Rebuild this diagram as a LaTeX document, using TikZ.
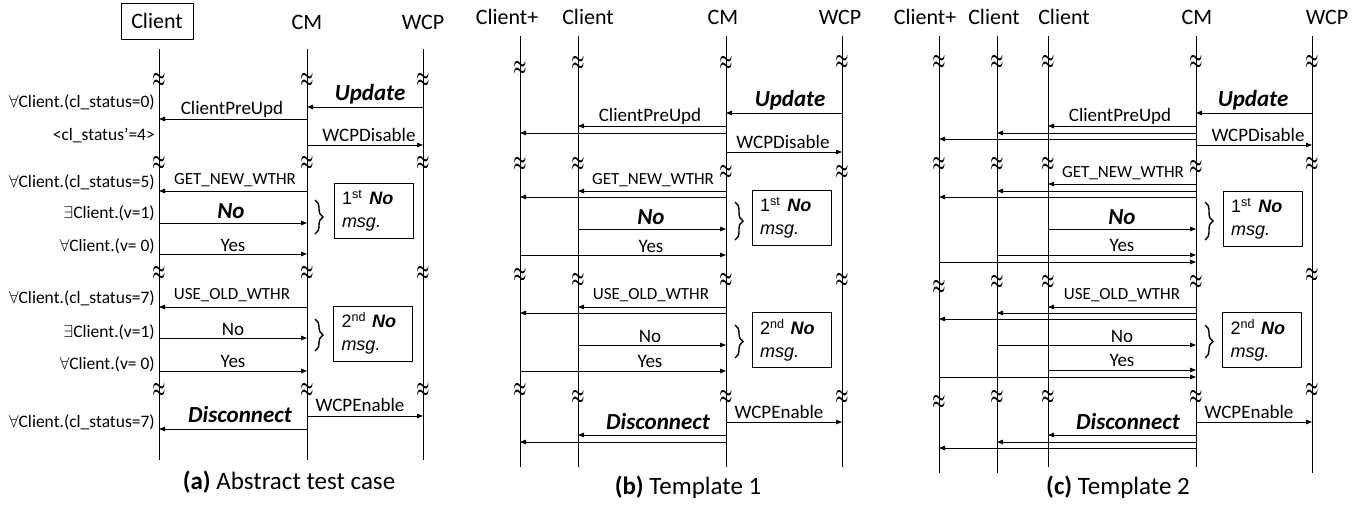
\documentclass[tikz,border=0pt]{standalone}
\usepackage{fontspec}
\setmainfont{Carlito}
\newfontfamily\arialfont{Liberation Sans}
\usetikzlibrary{arrows.meta,decorations.pathreplacing}
\newcommand\mymsg[3]{\draw[msg] (#1 |- 0,#3) -- (#2 |- 0,#3);}
\newcommand\brkmark{\scalebox{0.85}[1.45]{$\boldsymbol{\approx}$}}
\usepackage{amsmath,bm}
\begin{document}
\begin{tikzpicture}[x=1pt,y=-1pt,
  life/.style={line width=1pt},
  msg/.style={line width=0.8pt,-{Triangle[length=6pt,width=4.5pt]}},
  lbl/.style={font=\fontsize{19}{21}\selectfont,inner sep=0pt},
  small/.style={font=\fontsize{17}{19}\selectfont,inner sep=0pt},
  big/.style={font=\fontsize{23}{26}\selectfont\bfseries\itshape,inner sep=0pt},
  hdr/.style={font=\fontsize{22}{25}\selectfont,inner sep=0pt},
  cond/.style={font=\fontsize{17.5}{20}\selectfont,anchor=east,inner sep=0pt},
  brk/.style={font=\fontsize{17}{17}\selectfont,inner sep=0pt},
  capt/.style={font=\fontsize{25}{28}\selectfont,inner sep=0pt},
  notebox/.style={draw,line width=0.8pt,font=\arialfont\fontsize{18}{23}\selectfont,
    text width=63pt,align=left,inner xsep=8pt,inner ysep=3pt,minimum height=55pt},
  brace/.style={decorate,decoration={brace,amplitude=8pt},line width=1.4pt}]
\useasboundingbox (0,0) rectangle (1354,504);

% ================= panel (a) =================
\coordinate (aCl) at (159,49);  \coordinate (aClb) at (159,460);
\coordinate (aCM) at (307,49);  \coordinate (aCMb) at (307,460);
\coordinate (aWC) at (423,49);  \coordinate (aWCb) at (423,460);
\draw[life] (aCl) -- (aClb);
\draw[life] (aCM) -- (aCMb);
\draw[life] (aWC) -- (aWCb);
\node[hdr,draw,line width=0.8pt,minimum width=72pt,minimum height=36pt] (aClH) at (157,21) {Client};
\node[hdr] (aCMH) at (307,22) {CM};
\node[hdr] (aWCH) at (423,22) {WCP};
\foreach \n/\x in {Cl/159,CM/307,WC/423}{
  \foreach \k/\y in {1/80,2/163,3/273,4/390}{
    \node[brk] (aB\n\k) at (\x,\y) {\brkmark};
  }
}
\mymsg{aWC}{aCM}{107}
\node[big] (aL1) at (370,94) {Update};
\mymsg{aCM}{aCl}{119}
\node[lbl] (aL2) at (232,109) {ClientPreUpd};
\mymsg{aCM}{aWC}{145}
\node[lbl] (aL3) at (369,135) {WCPDisable};
\mymsg{aCM}{aCl}{191}
\node[small] (aL4) at (235,180) {GET\_NEW\_WTHR};
\mymsg{aCl}{aCM}{223}
\node[big] (aL5) at (231,211) {No};
\mymsg{aCl}{aCM}{254}
\node[lbl] (aL6) at (233,245) {Yes};
\draw[brace] (315,200) -- (315,234);
\node[notebox] (aN1) at (373.5,210.5) {1\textsuperscript{st}\hspace{7pt}\textbf{\itshape No}\\\itshape msg.};
\mymsg{aCM}{aCl}{307}
\node[small] (aL7) at (232,295) {USE\_OLD\_WTHR};
\mymsg{aCl}{aCM}{338}
\node[lbl] (aL8) at (233,329) {No};
\mymsg{aCl}{aCM}{371}
\node[lbl] (aL9) at (233,361) {Yes};
\draw[brace] (315,319) -- (315,351);
\node[notebox] (aN2) at (373,333.5) {2\textsuperscript{nd} \textbf{\itshape No}\\\itshape msg.};
\mymsg{aCM}{aWC}{416}
\node[lbl] (aL10) at (360,405) {WCPEnable};
\mymsg{aCM}{aCl}{429}
\node[big] (aL11) at (240,415) {Disconnect};
\node[cond] (aC1) at (155,102) {$\forall$Client.(cl\_status=0)};
\node[cond] (aC2) at (155,136) {<cl\_status’=4>};
\node[cond] (aC3) at (155,182) {$\forall$Client.(cl\_status=5)};
\node[cond] (aC4) at (155,213) {$\exists$Client.(v=1)};
\node[cond] (aC5) at (155,246) {$\forall$Client.(v= 0)};
\node[cond] (aC6) at (155,298) {$\forall$Client.(cl\_status=7)};
\node[cond] (aC7) at (155,332) {$\exists$Client.(v=1)};
\node[cond] (aC8) at (155,364) {$\forall$Client.(v= 0)};
\node[cond] (aC9) at (155,422) {$\forall$Client.(cl\_status=7)};
\node[capt] (aCap) at (289,482) {\textbf{(a)} Abstract test case};

% ================= panel (b) =================
\coordinate (bCp) at (520,36); \coordinate (bCpb) at (520,467);
\coordinate (bCl) at (578,36); \coordinate (bClb) at (578,467);
\coordinate (bCM) at (726,36); \coordinate (bCMb) at (726,467);
\coordinate (bWC) at (842,36); \coordinate (bWCb) at (842,467);
\draw[life] (bCp) -- (bCpb);
\draw[life] (bCl) -- (bClb);
\draw[life] (bCM) -- (bCMb);
\draw[life] (bWC) -- (bWCb);
\node[hdr] (bCpH) at (507,17) {Client+};
\node[hdr] (bClH) at (588,17) {Client};
\node[hdr] (bCMH) at (723,17) {CM};
\node[hdr] (bWCH) at (840,17) {WCP};
\foreach \n/\x/\ya/\yb/\yc/\yd in {Cp/520/68/164/275/390,Cl/578/63/164/280/397,CM/726/63/172/280/397,WC/842/62/172/280/397}{
  \node[brk] (bB\n1) at (\x,\ya) {\brkmark};
  \node[brk] (bB\n2) at (\x,\yb) {\brkmark};
  \node[brk] (bB\n3) at (\x,\yc) {\brkmark};
  \node[brk] (bB\n4) at (\x,\yd) {\brkmark};
}
\mymsg{bWC}{bCM}{113}
\node[big] (bL1) at (790,100) {Update};
\mymsg{bCM}{bCl}{126}
\mymsg{bCM}{bCp}{133}
\node[lbl] (bL2) at (650,116) {ClientPreUpd};
\mymsg{bCM}{bWC}{152}
\node[lbl] (bL3) at (783,142) {WCPDisable};
\mymsg{bCM}{bCl}{191}
\mymsg{bCM}{bCp}{197}
\node[small] (bL4) at (653,180) {GET\_NEW\_WTHR};
\mymsg{bCl}{bCM}{229}
\node[big] (bL5) at (651,217) {No};
\mymsg{bCp}{bCM}{255}
\node[lbl] (bL6) at (651,246) {Yes};
\draw[brace] (735,202) -- (735,240);
\node[notebox] (bN1) at (791.5,218) {1\textsuperscript{st}\hspace{7pt}\textbf{\itshape No}\\\itshape msg.};
\mymsg{bCM}{bCl}{307}
\mymsg{bCM}{bCp}{313}
\node[small] (bL7) at (651,295) {USE\_OLD\_WTHR};
\mymsg{bCl}{bCM}{345}
\node[lbl] (bL8) at (650,336) {No};
\mymsg{bCp}{bCM}{371}
\node[lbl] (bL9) at (650,361) {Yes};
\draw[brace] (735,325) -- (735,358);
\node[notebox] (bN2) at (791.5,340) {2\textsuperscript{nd} \textbf{\itshape No}\\\itshape msg.};
\mymsg{bCM}{bWC}{422}
\node[lbl] (bL10) at (779,412) {WCPEnable};
\mymsg{bCM}{bCl}{435}
\mymsg{bCM}{bCp}{442}
\node[big] (bL11) at (658,422) {Disconnect};
\node[capt] (bCap) at (688,487) {\textbf{(b)} Template 1};

% ================= panel (c) =================
\coordinate (cCp) at (939,36);  \coordinate (cCpb) at (939,473);
\coordinate (cC1) at (997,36);  \coordinate (cC1b) at (997,473);
\coordinate (cC2) at (1048,36); \coordinate (cC2b) at (1048,467);
\coordinate (cCM) at (1196,36); \coordinate (cCMb) at (1196,467);
\coordinate (cWC) at (1312,36); \coordinate (cWCb) at (1312,473);
\draw[life] (cCp) -- (cCpb);
\draw[life] (cC1) -- (cC1b);
\draw[life] (cC2) -- (cC2b);
\draw[life] (cCM) -- (cCMb);
\draw[life] (cWC) -- (cWCb);
\node[hdr] (cCpH) at (925,17) {Client+};
\node[hdr] (cC1H) at (994,17) {Client};
\node[hdr] (cC2H) at (1064,17) {Client};
\node[hdr] (cCMH) at (1197,17) {CM};
\node[hdr] (cWCH) at (1327,17) {WCP};
\foreach \n/\x/\ya/\yb/\yc/\yd in {Cp/939/62/164/287/402,C1/997/62/164/282/397,C2/1048/62/164/282/397,CM/1196/62/167/282/397,WC/1312/62/164/275/390}{
  \node[brk] (cB\n1) at (\x,\ya) {\brkmark};
  \node[brk] (cB\n2) at (\x,\yb) {\brkmark};
  \node[brk] (cB\n3) at (\x,\yc) {\brkmark};
  \node[brk] (cB\n4) at (\x,\yd) {\brkmark};
}
\mymsg{cWC}{cCM}{113}
\node[big] (cL1) at (1253,100) {Update};
\mymsg{cCM}{cC2}{126}
\mymsg{cCM}{cC1}{133}
\mymsg{cCM}{cCp}{139}
\node[lbl] (cL2) at (1120,116) {ClientPreUpd};
\mymsg{cCM}{cWC}{145}
\node[lbl] (cL3) at (1258,135) {WCPDisable};
\mymsg{cCM}{cC2}{184}
\mymsg{cCM}{cC1}{191}
\mymsg{cCM}{cCp}{197}
\node[small] (cL4) at (1123,173) {GET\_NEW\_WTHR};
\mymsg{cC2}{cCM}{229}
\node[big] (cL5) at (1122,217) {No};
\mymsg{cC1}{cCM}{255}
\mymsg{cCp}{cCM}{262}
\node[lbl] (cL6) at (1122,245) {Yes};
\draw[brace] (1205,202) -- (1205,240);
\node[notebox] (cN1) at (1262.5,218.5) {1\textsuperscript{st}\hspace{7pt}\textbf{\itshape No}\\\itshape msg.};
\mymsg{cCM}{cC2}{307}
\mymsg{cCM}{cC1}{313}
\mymsg{cCM}{cCp}{319}
\node[small] (cL7) at (1122,295) {USE\_OLD\_WTHR};
\mymsg{cC1}{cCM}{345}
\node[lbl] (cL8) at (1122,336) {No};
\mymsg{cC2}{cCM}{370}
\mymsg{cCp}{cCM}{377}
\node[lbl] (cL9) at (1122,360) {Yes};
\draw[brace] (1205,325) -- (1205,358);
\node[notebox] (cN2) at (1262,340) {2\textsuperscript{nd} \textbf{\itshape No}\\\itshape msg.};
\mymsg{cCM}{cWC}{422}
\node[lbl] (cL10) at (1249,412) {WCPEnable};
\mymsg{cCM}{cC2}{435}
\mymsg{cCM}{cC1}{442}
\mymsg{cCM}{cCp}{448}
\node[big] (cL11) at (1128,422) {Disconnect};
\node[capt] (cCap) at (1118,487) {\textbf{(c)} Template 2};
\end{tikzpicture}
\end{document}
